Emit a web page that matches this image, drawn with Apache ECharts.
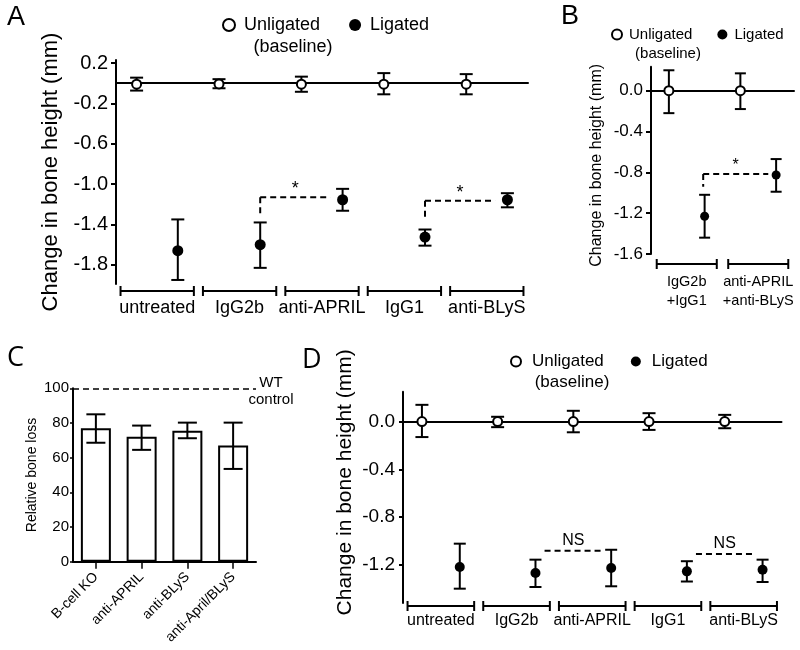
<!DOCTYPE html>
<html>
<head>
<meta charset="utf-8">
<script src="https://cdn.jsdelivr.net/npm/echarts@6/dist/echarts.min.js"></script>
<style>html,body{margin:0;padding:0;background:#fff;}#c{width:800px;height:650px;}</style>
</head>
<body>
<div id="c"></div>
<script>
// ---------- DATA ----------
// Panel A
const catsA = ['untreated', 'IgG2b', 'anti-APRIL', 'IgG1', 'anti-BLyS'];
const unligA = [-0.01, -0.007, -0.01, -0.01, -0.01];
const unligA_lo = [-0.073, -0.05, -0.085, -0.11, -0.11];
const unligA_hi = [0.055, 0.04, 0.065, 0.10, 0.09];
const ligA = [-1.66, -1.60, -1.155, -1.525, -1.155];
const ligA_lo = [-1.95, -1.83, -1.264, -1.61, -1.23];
const ligA_hi = [-1.35, -1.38, -1.047, -1.45, -1.09];
const ticksA = [0.2, -0.2, -0.6, -1.0, -1.4, -1.8];
const sigA = [['IgG2b', 'anti-APRIL', -1.13, -1.29, '*'], ['IgG1', 'anti-BLyS', -1.165, -1.35, '*']];

// Panel B
const catsB = ['IgG2b\n+IgG1', 'anti-APRIL\n+anti-BLyS'];
const unligB = [0, 0];
const unligB_lo = [-0.22, -0.18];
const unligB_hi = [0.20, 0.17];
const ligB = [-1.23, -0.826];
const ligB_lo = [-1.44, -0.99];
const ligB_hi = [-1.02, -0.67];
const ticksB = [0.0, -0.4, -0.8, -1.2, -1.6];
const sigB = [['IgG2b\n+IgG1', 'anti-APRIL\n+anti-BLyS', -0.817, -0.94, '*']];

// Panel C
const catsC = ['B-cell KO', 'anti-APRIL', 'anti-BLyS', 'anti-April/BLyS'];
const valC = [77, 72, 75.5, 67];
const valC_lo = [68.6, 64.5, 71.2, 53.5];
const valC_hi = [85, 78.5, 80.2, 80.2];
const wtControl = 100;

// Panel D
const catsD = ['untreated', 'IgG2b', 'anti-APRIL', 'IgG1', 'anti-BLyS'];
const unligD = [0, 0, 0, 0, 0];
const unligD_lo = [-0.13, -0.047, -0.09, -0.07, -0.056];
const unligD_hi = [0.14, 0.04, 0.09, 0.07, 0.056];
const ligD = [-1.218, -1.269, -1.227, -1.255, -1.241];
const ligD_lo = [-1.40, -1.386, -1.38, -1.34, -1.344];
const ligD_hi = [-1.023, -1.157, -1.074, -1.17, -1.157];
const ticksD = [0.0, -0.4, -0.8, -1.2];
const sigD = [['IgG2b', 'anti-APRIL', -1.082, -1.082, 'NS'], ['IgG1', 'anti-BLyS', -1.11, -1.11, 'NS']];

// ---------- RENDER HELPERS ----------
const FONT = '"Liberation Sans", Arial, sans-serif';
const BLACK = '#000';

function errRender(off, capHalf, r, filled, lw) {
  return function (params, api) {
    const i = api.value(0), m = api.value(1), lo = api.value(2), hi = api.value(3);
    const band = api.size([1, 0])[0];
    const p = api.coord([i, m]);
    const x = p[0] + off * band;
    const yl = api.coord([i, lo])[1], yh = api.coord([i, hi])[1];
    const ls = { stroke: BLACK, lineWidth: lw };
    const ch = [
      { type: 'line', shape: { x1: x, y1: yl, x2: x, y2: yh }, style: ls },
      { type: 'line', shape: { x1: x - capHalf, y1: yl, x2: x + capHalf, y2: yl }, style: ls },
      { type: 'line', shape: { x1: x - capHalf, y1: yh, x2: x + capHalf, y2: yh }, style: ls }
    ];
    if (r > 0) {
      ch.push({ type: 'circle', shape: { cx: x, cy: p[1], r: r },
        style: filled ? { fill: BLACK } : { fill: '#fff', stroke: BLACK, lineWidth: 2 } });
    }
    return { type: 'group', children: ch };
  };
}

function bracketRender(cats, dy, labelDy, halfFrac, fontSize, lineH) {
  return function (params, api) {
    const i = api.value(0);
    const band = api.size([1, 0])[0];
    const cx = api.coord([i, 0])[0];
    const cs = params.coordSys;
    const y = cs.y + cs.height + dy;
    const x1 = cx - halfFrac * band, x2 = cx + halfFrac * band;
    const ls = { stroke: BLACK, lineWidth: 2 };
    return { type: 'group', children: [
      { type: 'line', shape: { x1: x1, y1: y, x2: x2, y2: y }, style: ls },
      { type: 'line', shape: { x1: x1, y1: y - 5, x2: x1, y2: y + 5 }, style: ls },
      { type: 'line', shape: { x1: x2, y1: y - 5, x2: x2, y2: y + 5 }, style: ls },
      { type: 'text', style: { text: cats[params.dataIndex], x: cx, y: cs.y + cs.height + labelDy,
        align: 'center', verticalAlign: 'middle', font: fontSize + 'px ' + FONT, fill: BLACK, lineHeight: lineH } }
    ]};
  };
}

function sigRender(sig, offFrom, offTo, textDy, fontSize) {
  return function (params, api) {
    const a = api.value(0), b = api.value(1), lvl = api.value(2), drop = api.value(3);
    const band = api.size([1, 0])[0];
    const pa = api.coord([a, lvl]), pb = api.coord([b, lvl]);
    const x1 = pa[0] + offFrom * band, x2 = pb[0] + offTo * band, y = pa[1];
    const yd = api.coord([a, drop])[1];
    const ls = { stroke: BLACK, lineWidth: 2, lineDash: [6, 4] };
    const ch = [{ type: 'line', shape: { x1: x1, y1: y, x2: x2, y2: y }, style: ls }];
    if (Math.abs(yd - y) > 1) ch.push({ type: 'line', shape: { x1: x1, y1: y, x2: x1, y2: yd }, style: ls });
    ch.push({ type: 'text', style: { text: sig[params.dataIndex][4], x: (x1 + x2) / 2, y: y - textDy,
      align: 'center', verticalAlign: 'middle', font: fontSize + 'px ' + FONT, fill: BLACK } });
    return { type: 'group', children: ch };
  };
}

function rows(cats, m, lo, hi) { return cats.map((c, i) => [i, m[i], lo[i], hi[i]]); }
function sigRows(sig, cats) { return sig.map(s => [cats.indexOf(s[0]), cats.indexOf(s[1]), s[2], s[3]]); }

function catX(gi, cats) {
  return { gridIndex: gi, type: 'category', data: cats, boundaryGap: true,
    axisLine: { onZero: true, lineStyle: { color: BLACK, width: 2 } },
    axisTick: { show: false }, axisLabel: { show: false }, splitLine: { show: false } };
}
function valY(gi, min, max, ticks, fs, tickLen, margin, name, nameFs, nameGap, namePad) {
  return { gridIndex: gi, type: 'value', min: min, max: max,
    axisLine: { show: true, lineStyle: { color: BLACK, width: 2 } },
    axisTick: { show: true, length: tickLen, customValues: ticks, lineStyle: { color: BLACK, width: 2 } },
    axisLabel: { customValues: ticks, formatter: v => v.toFixed(1), fontSize: fs, color: BLACK, margin: margin, fontFamily: FONT },
    splitLine: { show: false },
    name: name, nameLocation: 'middle', nameRotate: 90, nameGap: nameGap,
    nameTextStyle: { fontSize: nameFs, color: BLACK, fontFamily: FONT, padding: namePad } };
}
function legendAt(left, top, fs, iconSize, gap, padL) {
  return { left: left, top: top, padding: 0, itemWidth: iconSize, itemHeight: iconSize, itemGap: gap,
    selectedMode: false,
    textStyle: { fontSize: fs, color: BLACK, fontFamily: FONT, padding: [0, 0, 0, padL] },
    data: [
      { name: 'Unligated', icon: 'circle', itemStyle: { color: '#fff', borderColor: BLACK, borderWidth: 2 } },
      { name: 'Ligated', icon: 'circle', itemStyle: { color: BLACK, borderWidth: 0 } }
    ] };
}
function txt(text, x, y, size, family, align) {
  return { type: 'text', x: x, y: y, silent: true,
    style: { text: text, font: size + 'px ' + (family || FONT), fill: BLACK, align: align || 'center', verticalAlign: 'middle', lineHeight: size + 2 } };
}

const chart = echarts.init(document.getElementById('c'));
const option = {
  animation: false,
  backgroundColor: '#fff',
  textStyle: { fontFamily: FONT },
  grid: [
    { left: 116, top: 60, width: 412, height: 224 },
    { left: 651, top: 66.7, width: 143, height: 187.3 },
    { left: 73, top: 388.3, width: 183, height: 173.4 },
    { left: 403, top: 391.7, width: 378.5, height: 211.3 }
  ],
  xAxis: [
    catX(0, catsA),
    catX(1, catsB),
    { gridIndex: 2, type: 'category', data: catsC,
      axisLine: { lineStyle: { color: BLACK, width: 2 } },
      axisTick: { show: true, alignWithLabel: true, length: 7, lineStyle: { color: BLACK, width: 1.5 } },
      axisLabel: { rotate: 45, interval: 0, fontSize: 14, color: BLACK, margin: 13, fontFamily: FONT } },
    catX(3, catsD)
  ],
  yAxis: [
    valY(0, -1.99, 0.23, ticksA, 20, 5, 8, 'Change in bone height (mm)', 22, 54, [0, 0, 0, 0]),
    valY(1, -1.6, 0.235, ticksB, 17, 5, 8, 'Change in bone height (mm)', 16, 46, [0, 10, 0, 0]),
    { gridIndex: 2, type: 'value', min: 0, max: 100, interval: 20,
      axisLine: { show: true, lineStyle: { color: BLACK, width: 2 } },
      axisTick: { show: true, length: 3, lineStyle: { color: BLACK, width: 1.5 } },
      axisLabel: { fontSize: 15, color: BLACK, margin: 4, fontFamily: FONT },
      splitLine: { show: false },
      name: 'Relative bone loss', nameLocation: 'middle', nameRotate: 90, nameGap: 34,
      nameTextStyle: { fontSize: 14, color: BLACK, fontFamily: FONT } },
    valY(3, -1.52, 0.25, ticksD, 19, 4, 8, 'Change in bone height (mm)', 21, 47, [0, 0, 0, 30])
  ],
  legend: [
    legendAt(222, 16, 18, 12, 29, 4),
    legendAt(611, 27, 15, 10, 25, 2),
    legendAt(510, 353, 17, 10, 27, 6)
  ],
  graphic: [
    txt('A', 7, 18, 27, FONT, 'left'),
    txt('B', 561, 17, 27, FONT, 'left'),
    txt('C', 7, 358, 27, '"Open Sans", sans-serif', 'left'),
    txt('D', 302, 360, 27, '"Open Sans", sans-serif', 'left'),
    txt('(baseline)', 293, 47, 18),
    txt('(baseline)', 668, 54, 15),
    txt('(baseline)', 572, 382, 17),
    txt('WT\ncontrol', 271, 391, 15)
  ],
  series: [
    // Panel A
    { type: 'custom', name: 'Unligated', xAxisIndex: 0, yAxisIndex: 0, z: 5,
      encode: { x: 0, y: [1, 2, 3] }, itemStyle: { color: '#fff' },
      data: rows(catsA, unligA, unligA_lo, unligA_hi), renderItem: errRender(-0.25, 6.5, 4.5, false, 2) },
    { type: 'custom', name: 'Ligated', xAxisIndex: 0, yAxisIndex: 0, z: 5,
      encode: { x: 0, y: [1, 2, 3] }, itemStyle: { color: BLACK },
      data: rows(catsA, ligA, ligA_lo, ligA_hi), renderItem: errRender(0.25, 6.5, 5.5, true, 2) },
    { type: 'custom', xAxisIndex: 0, yAxisIndex: 0, encode: { x: 0, y: 1 },
      data: catsA.map((c, i) => [i, 0]), renderItem: bracketRender(catsA, 7, 24, 0.445, 18, 20) },
    { type: 'custom', xAxisIndex: 0, yAxisIndex: 0, encode: { x: 0, y: 2 },
      data: sigRows(sigA, catsA), renderItem: sigRender(sigA, 0.25, 0.1, 8, 18) },
    // Panel B
    { type: 'custom', name: 'Unligated', xAxisIndex: 1, yAxisIndex: 1, z: 5,
      encode: { x: 0, y: [1, 2, 3] }, itemStyle: { color: '#fff' },
      data: rows(catsB, unligB, unligB_lo, unligB_hi), renderItem: errRender(-0.25, 5.5, 4.5, false, 2) },
    { type: 'custom', name: 'Ligated', xAxisIndex: 1, yAxisIndex: 1, z: 5,
      encode: { x: 0, y: [1, 2, 3] }, itemStyle: { color: BLACK },
      data: rows(catsB, ligB, ligB_lo, ligB_hi), renderItem: errRender(0.25, 5.5, 4.5, true, 2) },
    { type: 'custom', xAxisIndex: 1, yAxisIndex: 1, encode: { x: 0, y: 1 },
      data: catsB.map((c, i) => [i, 0]), renderItem: bracketRender(catsB, 10, 37, 0.42, 14.5, 19) },
    { type: 'custom', xAxisIndex: 1, yAxisIndex: 1, encode: { x: 0, y: 2 },
      data: sigRows(sigB, catsB), renderItem: sigRender(sigB, 0.23, 0.14, 8, 16) },
    // Panel C
    { type: 'bar', xAxisIndex: 2, yAxisIndex: 2, barWidth: 30, data: valC,
      itemStyle: { color: '#fff', borderColor: BLACK, borderWidth: 2 },
      markLine: { silent: true, symbol: 'none', label: { show: false },
        lineStyle: { color: BLACK, type: [6, 4], width: 1.5 }, data: [{ yAxis: wtControl }] } },
    { type: 'custom', xAxisIndex: 2, yAxisIndex: 2, z: 5, encode: { x: 0, y: [1, 2, 3] },
      data: rows(catsC, valC, valC_lo, valC_hi), renderItem: errRender(0, 9.5, 0, true, 2) },
    // Panel D
    { type: 'custom', name: 'Unligated', xAxisIndex: 3, yAxisIndex: 3, z: 5,
      encode: { x: 0, y: [1, 2, 3] }, itemStyle: { color: '#fff' },
      data: rows(catsD, unligD, unligD_lo, unligD_hi), renderItem: errRender(-0.25, 6.5, 4.5, false, 2) },
    { type: 'custom', name: 'Ligated', xAxisIndex: 3, yAxisIndex: 3, z: 5,
      encode: { x: 0, y: [1, 2, 3] }, itemStyle: { color: BLACK },
      data: rows(catsD, ligD, ligD_lo, ligD_hi), renderItem: errRender(0.25, 6, 5, true, 2) },
    { type: 'custom', xAxisIndex: 3, yAxisIndex: 3, encode: { x: 0, y: 1 },
      data: catsD.map((c, i) => [i, 0]), renderItem: bracketRender(catsD, 3, 18, 0.44, 16, 18) },
    { type: 'custom', xAxisIndex: 3, yAxisIndex: 3, encode: { x: 0, y: 2 },
      data: sigRows(sigD, catsD), renderItem: sigRender(sigD, 0.37, 0.13, 10, 16) }
  ]
};
chart.setOption(option);
</script>
</body>
</html>
